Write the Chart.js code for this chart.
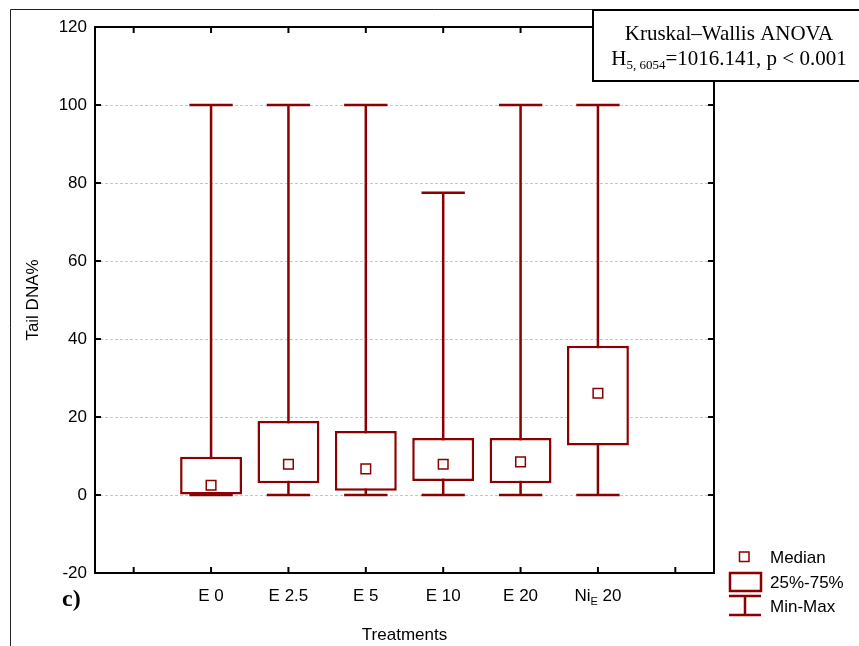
<!DOCTYPE html>
<html>
<head>
<meta charset="utf-8">
<script src="https://cdn.jsdelivr.net/npm/chart.js@4.4.0/dist/chart.umd.min.js"></script>
<style>
    html, body { margin: 0; padding: 0; background: #fff; }
    canvas { display: block; }
</style>
</head>
<body>
<canvas id="tailDnaChart" width="859" height="646"></canvas>
<script>
// Data (Tail DNA%, per treatment)
const treatments = ["", "E 0", "E 2.5", "E 5", "E 10", "E 20", "Ni_E 20", ""];
const minValues = [null, 0, 0, 0, 0, 0, 0, null];
const q1Values = [null, 0, 3.0, 1.1, 3.6, 3.0, 12.7, null];
const medianValues = [null, 2.5, 7.9, 6.7, 7.9, 8.5, 26.1, null];
const q3Values = [null, 9.8, 19.0, 16.4, 14.6, 14.6, 38.3, null];
const maxValues = [null, 100, 100, 100, 77.5, 100, 100, null];
const yTicks = [-20, 0, 20, 40, 60, 80, 100, 120];

const darkRed = "#8b0000";
const sansFont = '"Liberation Sans", Arial, sans-serif';
const serifFont = '"Liberation Serif", "Times New Roman", serif';

// draw a label, text after "_" is a subscript (e.g. Ni_E 20)
function drawSubLabel(ctx, text, cx, baseline, size, subSize) {
    let parts = [{ t: text, sub: false }];
    const idx = text.indexOf("_");
    if (idx >= 0) {
        const rest = text.slice(idx + 1);
        const sp = rest.indexOf(" ");
        parts = [
            { t: text.slice(0, idx), sub: false },
            { t: rest.slice(0, sp), sub: true },
            { t: rest.slice(sp), sub: false },
        ];
    }
    let total = 0;
    parts.forEach((p) => {
        ctx.font = (p.sub ? subSize : size) + "px " + sansFont;
        p.w = ctx.measureText(p.t).width;
        total += p.w;
    });
    let x = cx - total / 2;
    ctx.textAlign = "left";
    ctx.textBaseline = "alphabetic";
    parts.forEach((p) => {
        ctx.font = (p.sub ? subSize : size) + "px " + sansFont;
        ctx.fillText(p.t, x, p.sub ? baseline + 4 : baseline);
        x += p.w;
    });
}

const boxPlotExtras = {
    id: "boxPlotExtras",
    beforeDatasetsDraw(chart) {
        // whiskers + caps (min-max)
        const { ctx, scales: { x, y } } = chart;
        const capHalf = (x.width / treatments.length) * 0.28;
        ctx.save();
        ctx.strokeStyle = darkRed;
        ctx.lineWidth = 2.5;
        treatments.forEach((t, i) => {
            if (minValues[i] === null) return;
            const px = x.getPixelForValue(i);
            ctx.beginPath();
            ctx.moveTo(px, y.getPixelForValue(maxValues[i]));
            ctx.lineTo(px, y.getPixelForValue(minValues[i]));
            ctx.stroke();
            [minValues[i], maxValues[i]].forEach((v) => {
                const py = y.getPixelForValue(v);
                ctx.beginPath();
                ctx.moveTo(px - capHalf, py);
                ctx.lineTo(px + capHalf, py);
                ctx.stroke();
            });
        });
        ctx.restore();
    },
    afterDraw(chart) {
        const { ctx, chartArea: a, scales: { x, y } } = chart;
        ctx.save();

        // outer frame
        ctx.strokeStyle = "#222";
        ctx.lineWidth = 1;
        ctx.beginPath();
        ctx.moveTo(10.5, 646);
        ctx.lineTo(10.5, 9.5);
        ctx.lineTo(859, 9.5);
        ctx.stroke();

        // plot frame
        ctx.strokeStyle = "#000";
        ctx.lineWidth = 2;
        ctx.strokeRect(a.left, a.top, a.right - a.left, a.bottom - a.top);

        // inward tick marks
        ctx.beginPath();
        treatments.forEach((t, i) => {
            const px = x.getPixelForTick(i);
            ctx.moveTo(px, a.bottom);
            ctx.lineTo(px, a.bottom - 6);
            ctx.moveTo(px, a.top);
            ctx.lineTo(px, a.top + 6);
        });
        yTicks.forEach((v) => {
            const py = y.getPixelForValue(v);
            ctx.moveTo(a.left, py);
            ctx.lineTo(a.left + 6, py);
            ctx.moveTo(a.right, py);
            ctx.lineTo(a.right - 6, py);
        });
        ctx.stroke();

        // category labels
        ctx.fillStyle = "#000";
        treatments.forEach((t, i) => {
            if (!t) return;
            drawSubLabel(ctx, t, x.getPixelForTick(i), 601, 17, 11);
        });

        // legend
        ctx.strokeStyle = darkRed;
        ctx.fillStyle = "#fff";
        ctx.lineWidth = 1.5;
        ctx.fillRect(739.5, 552, 9.5, 9.5);
        ctx.strokeRect(739.5, 552, 9.5, 9.5);
        ctx.lineWidth = 2.5;
        ctx.strokeRect(730, 573, 31, 18);
        ctx.beginPath();
        ctx.moveTo(729, 596);
        ctx.lineTo(761, 596);
        ctx.moveTo(745, 596);
        ctx.lineTo(745, 615);
        ctx.moveTo(729, 615);
        ctx.lineTo(761, 615);
        ctx.stroke();
        ctx.fillStyle = "#000";
        ctx.font = "17px " + sansFont;
        ctx.textAlign = "left";
        ctx.textBaseline = "middle";
        ctx.fillText("Median", 770, 558);
        ctx.fillText("25%-75%", 770, 583);
        ctx.fillText("Min-Max", 770, 607);

        // panel letter
        ctx.font = "bold 24px " + serifFont;
        ctx.textBaseline = "alphabetic";
        ctx.fillText("c)", 62, 606);

        // test annotation
        ctx.fillStyle = "#fff";
        ctx.fillRect(593, 10, 280, 71);
        ctx.strokeStyle = "#000";
        ctx.lineWidth = 2;
        ctx.strokeRect(593, 10, 280, 71);
        ctx.fillStyle = "#000";
        ctx.textAlign = "center";
        ctx.font = "21px " + serifFont;
        ctx.fillText("Kruskal\u2013Wallis ANOVA", 729, 40);
        const segs = [["H", 21, 0], ["5, 6054", 13, 4], ["=1016.141, p < 0.001", 21, 0]];
        let total = 0;
        segs.forEach((s) => {
            ctx.font = s[1] + "px " + serifFont;
            s.push(ctx.measureText(s[0]).width);
            total += s[3];
        });
        let sx = 729 - total / 2;
        ctx.textAlign = "left";
        segs.forEach((s) => {
            ctx.font = s[1] + "px " + serifFont;
            ctx.fillText(s[0], sx, 65 + s[2]);
            sx += s[3];
        });

        ctx.restore();
    },
};

const ctx = document.getElementById("tailDnaChart").getContext("2d");
new Chart(ctx, {
    type: "bar",
    data: {
        labels: treatments,
        datasets: [
            {
                type: "line",
                label: "Median",
                data: medianValues,
                showLine: false,
                pointStyle: "rect",
                pointRadius: 6.8,
                pointBackgroundColor: "#fff",
                pointBorderColor: darkRed,
                pointBorderWidth: 1.5,
                order: 1,
            },
            {
                label: "25%-75%",
                data: q1Values.map((q, i) => (q === null ? null : [q, q3Values[i]])),
                backgroundColor: "#fff",
                borderColor: darkRed,
                borderWidth: 2.5,
                borderSkipped: false,
                categoryPercentage: 1,
                barPercentage: 0.8,
                order: 2,
            },
        ],
    },
    options: {
        responsive: false,
        animation: false,
        devicePixelRatio: 1,
        layout: {
            padding: { left: 0, top: 27, right: 145, bottom: 0 },
        },
        plugins: {
            legend: { display: false },
            tooltip: { enabled: false },
        },
        scales: {
            x: {
                grid: { display: false },
                border: { display: false },
                ticks: { display: false },
                title: {
                    display: true,
                    text: "Treatments",
                    color: "#000",
                    font: { family: sansFont, size: 17 },
                    padding: { top: 5, bottom: 0 },
                },
                afterFit: (scale) => {
                    scale.height = 73;
                },
            },
            y: {
                min: -20,
                max: 120,
                grid: {
                    color: "#c8c8c8",
                    lineWidth: 1,
                    drawTicks: false,
                },
                border: { display: false, dash: [3, 2] },
                ticks: {
                    stepSize: 20,
                    padding: 8,
                    color: "#000",
                    font: { family: sansFont, size: 17 },
                },
                title: {
                    display: true,
                    text: "Tail DNA%",
                    color: "#000",
                    font: { family: sansFont, size: 17 },
                    padding: { top: 23, bottom: 0 },
                },
                afterFit: (scale) => {
                    scale.width = 95;
                },
            },
        },
    },
    plugins: [boxPlotExtras],
});
</script>
</body>
</html>
